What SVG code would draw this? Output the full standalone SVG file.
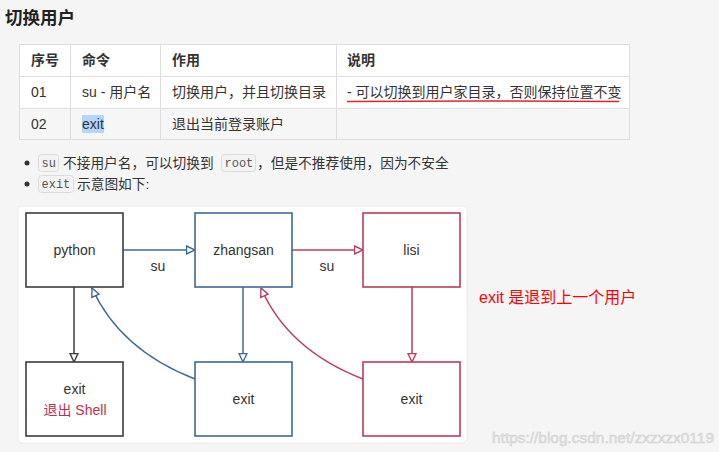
<svg xmlns="http://www.w3.org/2000/svg" width="719" height="452" viewBox="0 0 719 452">
<style>
text{font-family:"Liberation Sans","Noto Sans CJK SC",sans-serif;fill:#333;}
.t{font-size:14px;}
.th{font-size:14px;font-weight:bold;}
.b{font-size:13.7px;}
.code{font-family:"Liberation Mono","DejaVu Sans Mono",monospace;font-size:12px;fill:#555;}
.cbox{fill:#f3f3f3;stroke:#dcdcdc;stroke-width:1;}
.grid{stroke:#dddddd;stroke-width:1;fill:none;}
.n{font-size:14px;text-anchor:middle;}
.box{fill:#fff;stroke-width:1.6;}
.dk{stroke:#3c3c3c;}
.bl{stroke:#3d6a98;}
.rd{stroke:#bf3a5b;}
.ln{fill:none;stroke-width:1.5;}
</style>
<defs>
<marker id="mdk" viewBox="0 0 10 10" refX="9.5" refY="5" markerWidth="10" markerHeight="10" markerUnits="userSpaceOnUse" orient="auto"><path d="M1,1 L9.5,5 L1,9 Z" fill="#fff" stroke="#3c3c3c" stroke-width="1.4"/></marker>
<marker id="mbl" viewBox="0 0 10 10" refX="9.5" refY="5" markerWidth="10" markerHeight="10" markerUnits="userSpaceOnUse" orient="auto"><path d="M1,1 L9.5,5 L1,9 Z" fill="#fff" stroke="#3d6a98" stroke-width="1.4"/></marker>
<marker id="mrd" viewBox="0 0 10 10" refX="9.5" refY="5" markerWidth="10" markerHeight="10" markerUnits="userSpaceOnUse" orient="auto"><path d="M1,1 L9.5,5 L1,9 Z" fill="#fff" stroke="#bf3a5b" stroke-width="1.4"/></marker>
</defs>
<rect width="719" height="452" fill="#f5f5f5"/>
<text x="5" y="24" style="font-size:17.5px;font-weight:bold;fill:#222">切换用户</text>
<g id="table">
<rect x="19" y="44" width="611" height="64" fill="#fff"/>
<rect x="19" y="108" width="611" height="32" fill="#f6f6f6"/>
<rect x="19.5" y="44.5" width="610" height="95" class="grid"/>
<path d="M19,76.5H630M19,108.5H630M70.5,44V140M160.5,44V140M336.5,44V140" class="grid"/>
<text x="31" y="65" class="th">序号</text>
<text x="82" y="65" class="th">命令</text>
<text x="172" y="65" class="th">作用</text>
<text x="347" y="65" class="th">说明</text>
<text x="31" y="97" class="t">01</text>
<text x="82" y="97" class="t">su - 用户名</text>
<text x="172" y="97" class="t">切换用户，并且切换目录</text>
<text x="347" y="97" class="t">- 可以切换到用户家目录，否则保持位置不变</text>
<path d="M347,101.5Q480,100.5 619,101.5" fill="none" stroke="#e0262a" stroke-width="1.4"/>
<text x="31" y="129" class="t">02</text>
<rect x="82" y="115" width="22" height="18" fill="#b4d5fe"/>
<text x="82" y="129" class="t">exit</text>
<text x="172" y="129" class="t">退出当前登录账户</text>
</g>
<g id="bullets">
<circle cx="27" cy="163" r="2.5" fill="#333"/>
<rect x="38.5" y="154.5" width="20" height="17" rx="3" class="cbox"/>
<text x="41.5" y="167" class="code">su</text>
<text x="63" y="168" class="b">不接用户名，可以切换到</text>
<rect x="221.5" y="154.5" width="34" height="17" rx="3" class="cbox"/>
<text x="224.5" y="167" class="code">root</text>
<text x="257" y="168" class="b">，但是不推荐使用，因为不安全</text>
<circle cx="27" cy="184" r="2.5" fill="#333"/>
<rect x="38.5" y="175.5" width="35" height="17" rx="3" class="cbox"/>
<text x="41.5" y="188" class="code">exit</text>
<text x="77" y="189" class="b">示意图如下:</text>
</g>
<rect x="18" y="206" width="449" height="237" rx="4" fill="#fff" stroke="#ececec"/>
<g id="connectors">
<path d="M123,250H195" class="ln bl" marker-end="url(#mbl)"/>
<path d="M292,250H363" class="ln rd" marker-end="url(#mrd)"/>
<path d="M74,287V362" class="ln dk" marker-end="url(#mdk)"/>
<path d="M243,287V362" class="ln bl" marker-end="url(#mbl)"/>
<path d="M412,287V362" class="ln rd" marker-end="url(#mrd)"/>
<path d="M195,379Q120,350 92,288" class="ln bl" marker-end="url(#mbl)"/>
<path d="M363,379Q288,350 261,288" class="ln rd" marker-end="url(#mrd)"/>
<text x="158" y="271" class="n">su</text>
<text x="327" y="271" class="n">su</text>
</g>
<g id="python"><rect x="26" y="213" width="97" height="74" class="box dk"/><text x="74.5" y="255" class="n">python</text></g>
<g id="zhangsan"><rect x="195" y="213" width="97" height="74" class="box bl"/><text x="243.5" y="255" class="n">zhangsan</text></g>
<g id="lisi"><rect x="363" y="213" width="97" height="74" class="box rd"/><text x="411.5" y="255" class="n">lisi</text></g>
<g id="exit1"><rect x="26" y="362" width="97" height="74" class="box dk"/><text x="74.5" y="394" class="n">exit</text><text x="75" y="415" class="n" style="fill:#c0304f">退出 Shell</text></g>
<g id="exit2"><rect x="195" y="362" width="97" height="74" class="box bl"/><text x="243.5" y="404" class="n">exit</text></g>
<g id="exit3"><rect x="363" y="362" width="97" height="74" class="box rd"/><text x="411.5" y="404" class="n">exit</text></g>
<text x="479" y="303" style="font-size:16px;fill:#f00">exit 是退到上一个用户</text>
<text x="492" y="443" textLength="222" lengthAdjust="spacingAndGlyphs" style="font-size:15px;fill:#e4e4e4;stroke:#d0d0d0;stroke-width:0.5">https://blog.csdn.net/zxzxzx0119</text>
</svg>
